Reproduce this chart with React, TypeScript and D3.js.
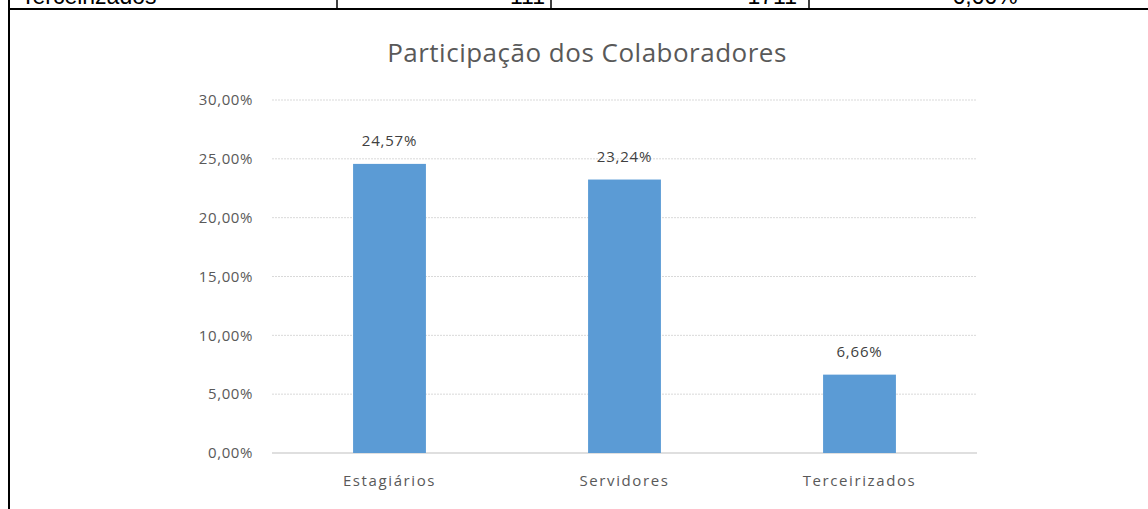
import React from "react";
import * as d3 from "d3";

const categories = ["Estagiários", "Servidores", "Terceirizados"];
const values = [24.57, 23.24, 6.66];
const yTicks = [0, 5, 10, 15, 20, 25, 30];
const tableRow = ["Terceirizados", "111", "1711", "6,66%"];

const W = 1148;
const H = 509;

export default function App() {
  const x = d3.scaleBand<string>().domain(categories).range([272, 977]).paddingInner(0.69).paddingOuter(0.345);
  const y = d3.scaleLinear().domain([0, 30]).range([453, 100]);
  const fmt = (v: number) => v.toFixed(2).replace(".", ",") + "%";
  const font = "'Open Sans', 'Noto Sans', sans-serif";
  const tf = "'Liberation Sans', Arial, sans-serif";
  return (
    <svg width={W} height={H} style={{ position: "absolute", left: 0, top: 0, background: "#fff" }}>
      {/* table remnant */}
      <text x={21} y={4} fontFamily={tf} fontSize={23} fill="#000">{tableRow[0]}</text>
      <text x={545} y={4} textAnchor="end" fontFamily={tf} fontSize={23} fill="#000">{tableRow[1]}</text>
      <text x={797} y={4} textAnchor="end" fontFamily={tf} fontSize={23} fill="#000">{tableRow[2]}</text>
      <text x={985} y={4} textAnchor="middle" fontFamily={tf} fontSize={23} fill="#000">{tableRow[3]}</text>
      <line x1={337} x2={337} y1={0} y2={8} stroke="#000" strokeWidth={1.5} />
      <line x1={551} x2={551} y1={0} y2={8} stroke="#000" strokeWidth={1.5} />
      <line x1={809} x2={809} y1={0} y2={8} stroke="#000" strokeWidth={1.5} />
      <line x1={8} x2={W} y1={9} y2={9} stroke="#000" strokeWidth={2} />
      <line x1={9} x2={9} y1={0} y2={H} stroke="#000" strokeWidth={2} />

      {/* title */}
      <text x={587} y={62} textAnchor="middle" fontFamily={font} fontSize={26} letterSpacing={0.5} fill="#595959">Participação dos Colaboradores</text>

      {/* gridlines & y labels */}
      {yTicks.map((t) => (
        <g key={t}>
          <line x1={272} x2={977} y1={y(t)} y2={y(t)} stroke={t === 0 ? "#bfbfbf" : "#d9d9d9"} strokeWidth={1} strokeDasharray={t === 0 ? undefined : "2,1"} />
          <text x={253} y={y(t)} dy="0.35em" textAnchor="end" fontFamily={font} fontSize={15} letterSpacing={0.6} fill="#595959">{fmt(t)}</text>
        </g>
      ))}

      {/* bars */}
      {categories.map((c, i) => (
        <g key={c}>
          <rect x={x(c)} y={y(values[i])} width={x.bandwidth()} height={y(0) - y(values[i])} fill="#5b9bd5" />
          <text x={(x(c) as number) + x.bandwidth() / 2} y={y(values[i]) - 18} textAnchor="middle" fontFamily={font} fontSize={15} letterSpacing={0.8} fill="#404040">{fmt(values[i])}</text>
          <text x={(x(c) as number) + x.bandwidth() / 2} y={486} textAnchor="middle" fontFamily={font} fontSize={15} letterSpacing={1.6} fill="#595959">{c}</text>
        </g>
      ))}
    </svg>
  );
}
